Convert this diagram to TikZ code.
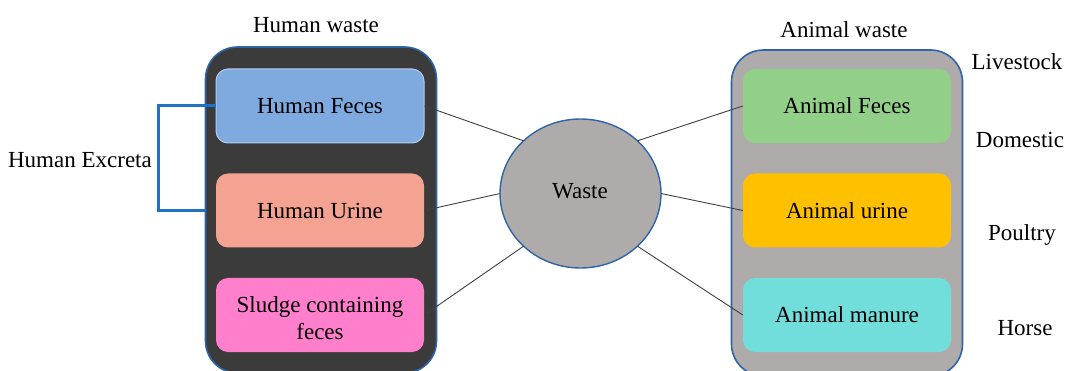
\documentclass[tikz,border=0pt]{standalone}
\usepackage{fontspec}
\setmainfont{Liberation Serif}
\usetikzlibrary{calc,shapes.geometric}
\definecolor{darkbox}{HTML}{3B3B3B}
\definecolor{greybox}{HTML}{AFABAB}
\definecolor{edgeblue}{HTML}{2E64A8}
\definecolor{bracketblue}{HTML}{1E72C8}
\definecolor{hfeces}{HTML}{7EAADF}
\definecolor{hfecesedge}{HTML}{B4CCEC}
\definecolor{hurine}{HTML}{F4A292}
\definecolor{sludge}{HTML}{FF7FCD}
\definecolor{afeces}{HTML}{92D08A}
\definecolor{aurine}{HTML}{FFC000}
\definecolor{amanure}{HTML}{72DEDC}
\definecolor{linkgrey}{HTML}{404040}
\begin{document}
\begin{tikzpicture}[x=1pt,y=-1pt,
  every node/.style={font=\fontsize{23}{27.5}\selectfont, text=black},
  container/.style={draw=edgeblue, line width=1.6pt, rounded corners=32pt, inner sep=0pt, outer sep=0pt, minimum width=231pt, minimum height=326pt},
  wastebox/.style={rounded corners=12pt, inner sep=0pt, minimum width=208pt, minimum height=74pt, align=center},
  link/.style={draw=linkgrey, line width=0.9pt},
  plain/.style={inner sep=0pt}]
\useasboundingbox (0,0) rectangle (1065,371);
\clip (0,0) rectangle (1065,371);
% containers
\node[container, fill=darkbox] (hwbox) at (321,210) {};
\node[container, fill=greybox] (awbox) at (847,213) {};
% titles
\node[plain] (hwt) at (316,25) {Human waste};
\node[plain] (awt) at (844,30) {Animal waste};
% human boxes
\node[wastebox, fill=hfeces, draw=hfecesedge, line width=1pt] (hf) at (320,106) {Human Feces};
\node[wastebox, fill=hurine] (hu) at (320,210.5) {Human Urine};
\node[wastebox, fill=sludge] (hs) at (320,315) {};
\node[plain, align=center] (hst) at (320,318) {Sludge containing\\feces};
% animal boxes
\node[wastebox, fill=afeces] (af) at (847,106) {Animal Feces};
\node[wastebox, fill=aurine] (au) at (847,210.5) {Animal urine};
\node[wastebox, fill=amanure] (am) at (847,315) {Animal manure};
% central ellipse
\node[ellipse, draw=edgeblue, line width=1.4pt, fill=greybox, minimum width=161pt, minimum height=149pt, inner sep=0pt, outer sep=0pt] (w) at (580.5,193.5) {};
\node[plain] (wt) at (580,191) {Waste};
% links
\draw[link] (hf.east) -- (w.north west);
\draw[link] (hu.east) -- (w.west);
\draw[link] (hs.east) -- (w.south west);
\draw[link] (w.north east) -- (af.west);
\draw[link] (w.east) -- (au.west);
\draw[link] (w.south east) -- (am.west);
% bracket
\coordinate (bk) at (158,106);
\draw[bracketblue, line width=3pt] (hf.west) -- (bk) |- (hwbox.west |- hu.west);
\node[plain, anchor=east] (he) at (152,160) {Human Excreta};
% right labels
\node[plain] (l1) at (1017,62) {Livestock};
\node[plain] (l2) at (1020,140) {Domestic};
\node[plain] (l3) at (1022,235) {Poultry};
\node[plain] (l4) at (1025,328) {Horse};
\end{tikzpicture}
\end{document}
